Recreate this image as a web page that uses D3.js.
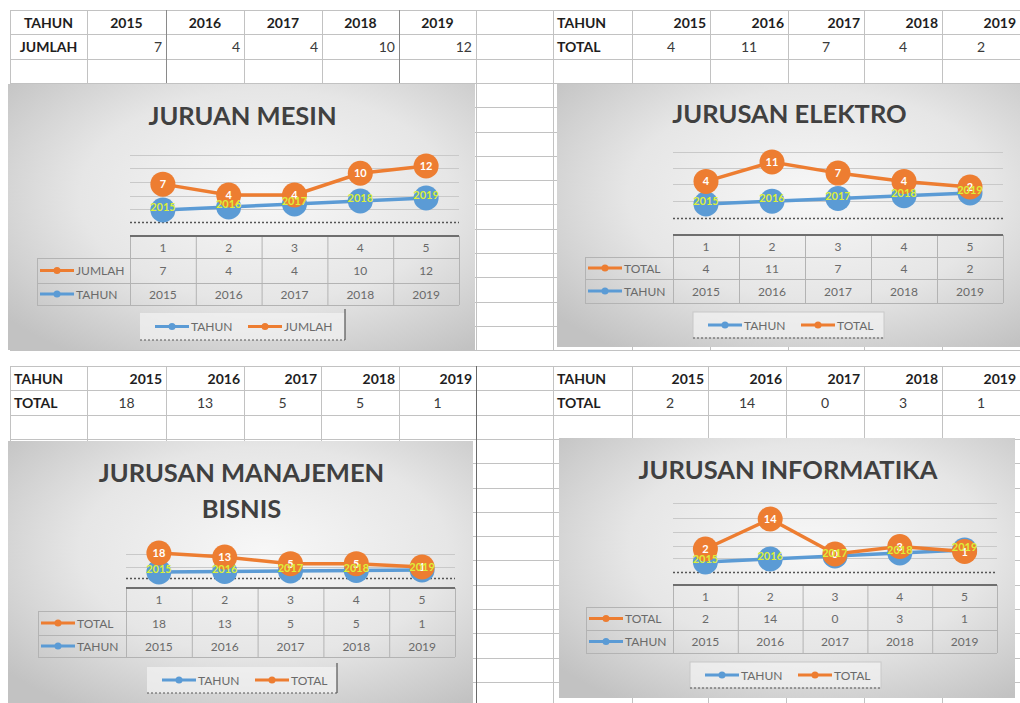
<!DOCTYPE html>
<html>
<head>
<meta charset="utf-8">
<script src="https://cdn.jsdelivr.net/npm/d3@7"></script>
<style>
  body { margin: 0; background: #fff; }
  svg { display: block; font-family: Lato, "Open Sans", sans-serif; }
</style>
</head>
<body>
<div id="chart"></div>
<script>
const years = [2015, 2016, 2017, 2018, 2019];
const pointNumbers = ["1", "2", "3", "4", "5"];
const mesinJumlah = [7, 4, 4, 10, 12];
const elektroTotal = [4, 11, 7, 4, 2];
const manajemenTotal = [18, 13, 5, 5, 1];
const informatikaTotal = [2, 14, 0, 3, 1];
const yearSeries = "TAHUN";

const BLUE = "#5b9bd5", ORANGE = "#ed7d31";

// layout of each block (sheet table + chart object)
const panels = [
  { title: ["JURUAN MESIN"], name: "JUMLAH", values: mesinJumlah,
    cols: [10, 87, 166, 244, 322, 399, 476], top: 10, headAlign: "middle", yearAlign: "middle", valAlign: "end",
    box: [8, 84, 475, 350], titleY: [125], plotX: [130, 459], grid: [155, 168, 182, 196, 209, 222],
    orangeY: [195, 166], blueY: [210, 198], tableY: [236, 258, 283, 305], keyX: 37,
    legend: [140, 313, 345, 340], legendEdge: true },
  { title: ["JURUSAN ELEKTRO"], name: "TOTAL", values: elektroTotal,
    cols: [553, 632, 710, 788, 864, 942, 1020], top: 10, headAlign: "start", yearAlign: "end", valAlign: "middle",
    box: [557, 84, 1020, 347], titleY: [123], plotX: [673, 1003], grid: [152, 168, 184, 201, 218],
    orangeY: [187, 162], blueY: [204, 193], tableY: [235, 257, 279, 303], keyX: 585,
    legend: [693, 312, 884, 338], legendEdge: false },
  { title: ["JURUSAN MANAJEMEN", "BISNIS"], name: "TOTAL", values: manajemenTotal,
    cols: [10, 87, 166, 244, 321, 399, 476], top: 366, headAlign: "start", yearAlign: "end", valAlign: "middle",
    box: [8, 441, 473, 703], titleY: [482, 518], plotX: [126, 455], grid: [554, 567, 578],
    orangeY: [567, 553], blueY: [572, 570], tableY: [588, 611, 635, 657], keyX: 38,
    legend: [147, 667, 337, 693], legendEdge: true },
  { title: ["JURUSAN INFORMATIKA"], name: "TOTAL", values: informatikaTotal,
    cols: [553, 632, 708, 786, 864, 942, 1020], top: 366, headAlign: "start", yearAlign: "end", valAlign: "middle",
    box: [559, 438, 1015, 698], titleY: [479], plotX: [673, 997], grid: [503, 518, 532, 546, 558, 572],
    orangeY: [554, 519], blueY: [562, 550], tableY: [585, 607, 630, 653], keyX: 586,
    legend: [690, 662, 881, 688], legendEdge: false }
];

const svg = d3.select("#chart").append("svg").attr("width", 1020).attr("height", 703);
svg.append("rect").attr("width", 1020).attr("height", 703).attr("fill", "#fff");

const grad = svg.append("defs").append("radialGradient").attr("id", "chartBg")
  .attr("cx", "55%").attr("cy", "42%").attr("r", "72%");
grad.append("stop").attr("offset", "0%").attr("stop-color", "#f7f7f7");
grad.append("stop").attr("offset", "55%").attr("stop-color", "#e6e6e6");
grad.append("stop").attr("offset", "100%").attr("stop-color", "#c2c2c2");

// spreadsheet grid
const sheet = svg.append("g").attr("stroke", "#c2c2c2").attr("stroke-width", 1);
[[10, 350], [366, 703]].forEach(([y0, y1]) => {
  d3.range(15).forEach(i => {
    const y = Math.round(y0 + i * 24.3) + 0.5;
    if (y <= y1 + 1) sheet.append("line").attr("x1", 10).attr("x2", 1020).attr("y1", y).attr("y2", y);
  });
});
panels.forEach(p => {
  const y1 = p.top === 10 ? 350 : 703;
  p.cols.concat(p.cols[0] === 10 ? [553] : []).forEach(x => {
    sheet.append("line").attr("x1", x + 0.5).attr("x2", x + 0.5).attr("y1", p.top).attr("y2", y1);
  });
});
// darker borders seen in the sheet
sheet.append("line").attr("x1", 476.5).attr("x2", 476.5).attr("y1", 366).attr("y2", 703).attr("stroke", "#6a6a6a");
[166, 399].forEach(x => sheet.append("line").attr("x1", x + 0.5).attr("x2", x + 0.5).attr("y1", 10).attr("y2", 83).attr("stroke", "#8a8a8a"));

function drawPanel(p) {
  // sheet table text
  const st = svg.append("g");
  const rowBase = [p.top + 18, p.top + 42];
  const cellX = (i, align) => align === "start" ? p.cols[i] + 4 : align === "end" ? p.cols[i + 1] - 4 : (p.cols[i] + p.cols[i + 1]) / 2;
  st.append("text").attr("x", cellX(0, p.headAlign)).attr("y", rowBase[0]).attr("text-anchor", p.headAlign)
    .attr("font-size", 14).attr("font-weight", 700).attr("fill", "#1e1e1e").text(yearSeries);
  st.append("text").attr("x", cellX(0, p.headAlign)).attr("y", rowBase[1]).attr("text-anchor", p.headAlign)
    .attr("font-size", 14).attr("font-weight", 700).attr("fill", "#1e1e1e").text(p.name);
  st.selectAll(".yr").data(years).join("text")
    .attr("x", (d, i) => cellX(i + 1, p.yearAlign)).attr("y", rowBase[0]).attr("text-anchor", p.yearAlign)
    .attr("font-size", 14).attr("font-weight", 700).attr("fill", "#1e1e1e").text(d => d);
  st.selectAll(".vl").data(p.values).join("text")
    .attr("x", (d, i) => cellX(i + 1, p.valAlign)).attr("y", rowBase[1]).attr("text-anchor", p.valAlign)
    .attr("font-size", 14).attr("fill", "#3a3a3a").text(d => d);

  // chart object
  const g = svg.append("g");
  const [bx0, by0, bx1, by1] = p.box;
  g.append("rect").attr("x", bx0).attr("y", by0).attr("width", bx1 - bx0).attr("height", by1 - by0).attr("fill", "url(#chartBg)");

  p.title.forEach((t, i) => {
    g.append("text").attr("x", (bx0 + bx1) / 2 + 1).attr("y", p.titleY[i]).attr("text-anchor", "middle")
      .attr("font-size", 25.5).attr("font-weight", 700).attr("fill", "#404040").text(t);
  });

  const x = d3.scaleBand().domain(pointNumbers).range(p.plotX);
  const xc = i => x(pointNumbers[i]) + x.bandwidth() / 2;
  const yO = d3.scaleLinear().domain(d3.extent(p.values)).range(p.orangeY);
  const yB = d3.scaleLinear().domain(d3.extent(years)).range(p.blueY);

  p.grid.forEach((gy, i) => {
    const last = i === p.grid.length - 1;
    g.append("line").attr("x1", p.plotX[0]).attr("x2", p.plotX[1]).attr("y1", gy + 0.5).attr("y2", gy + 0.5)
      .attr("stroke", last ? "#555" : "#c9c9c9").attr("stroke-width", last ? 1.5 : 1)
      .attr("stroke-dasharray", last ? "2,2" : null);
  });

  const line = (ys, arr) => d3.line().x((d, i) => xc(i)).y(d => ys(d))(arr);
  g.append("path").attr("d", line(yB, years)).attr("fill", "none").attr("stroke", BLUE).attr("stroke-width", 3.5);
  g.selectAll(".bm").data(years).join("circle")
    .attr("cx", (d, i) => xc(i)).attr("cy", d => yB(d)).attr("r", 12.5).attr("fill", BLUE);
  g.append("path").attr("d", line(yO, p.values)).attr("fill", "none").attr("stroke", ORANGE).attr("stroke-width", 3.5);
  g.selectAll(".om").data(p.values).join("circle")
    .attr("cx", (d, i) => xc(i)).attr("cy", d => yO(d)).attr("r", 12.5).attr("fill", ORANGE);
  g.selectAll(".ol").data(p.values).join("text")
    .attr("x", (d, i) => xc(i)).attr("y", d => yO(d) + 4).attr("text-anchor", "middle")
    .attr("font-size", 11).attr("font-weight", 700).attr("fill", "#fff").text(d => d);
  g.selectAll(".bl").data(years).join("text")
    .attr("x", (d, i) => xc(i)).attr("y", d => yB(d) + 1).attr("text-anchor", "middle")
    .attr("font-size", 11).attr("font-weight", 700).attr("fill", "#dcef3a").text(d => d);

  // data table under the plot
  const [t0, t1, t2, t3] = p.tableY;
  const tg = g.append("g").attr("stroke", "#b3b3b3").attr("stroke-width", 1);
  [t1, t2, t3].forEach(ty => tg.append("line").attr("x1", p.keyX).attr("x2", p.plotX[1]).attr("y1", ty + 0.5).attr("y2", ty + 0.5));
  x.domain().map(d => x(d)).concat([p.plotX[1]]).forEach(vx => {
    tg.append("line").attr("x1", vx + 0.5).attr("x2", vx + 0.5).attr("y1", t0).attr("y2", t3);
  });
  tg.append("line").attr("x1", p.keyX + 0.5).attr("x2", p.keyX + 0.5).attr("y1", t1).attr("y2", t3);
  g.append("line").attr("x1", p.plotX[0]).attr("x2", p.plotX[1]).attr("y1", t0).attr("y2", t0)
    .attr("stroke", "#6e6e6e").attr("stroke-width", 2);

  const rows = [pointNumbers, p.values, years];
  const rowY = [(t0 + t1) / 2, (t1 + t2) / 2, (t2 + t3) / 2];
  rows.forEach((r, ri) => {
    g.selectAll(".tr" + ri).data(r).join("text")
      .attr("x", (d, i) => xc(i)).attr("y", rowY[ri] + 4.5).attr("text-anchor", "middle")
      .attr("font-size", 12).attr("fill", "#6a6a6a").text(d => d);
  });

  const key = (kx, ky, color) => {
    g.append("line").attr("x1", kx).attr("x2", kx + 34).attr("y1", ky).attr("y2", ky).attr("stroke", color).attr("stroke-width", 3);
    g.append("circle").attr("cx", kx + 17).attr("cy", ky).attr("r", 3.5).attr("fill", color);
  };
  [[p.name, ORANGE, rowY[1]], [yearSeries, BLUE, rowY[2]]].forEach(([nm, c, ky]) => {
    key(p.keyX + 3, ky, c);
    g.append("text").attr("x", p.keyX + 39).attr("y", ky + 4.5).attr("font-size", 12).attr("fill", "#6a6a6a").text(nm);
  });

  // legend
  const [lx0, ly0, lx1, ly1] = p.legend;
  g.append("rect").attr("x", lx0).attr("y", ly0).attr("width", lx1 - lx0).attr("height", ly1 - ly0)
    .attr("fill", "#f3f3f3").attr("fill-opacity", 0.7).attr("stroke", p.legendEdge ? "none" : "#c8c8c8");
  g.append("line").attr("x1", lx0).attr("x2", lx1).attr("y1", ly1).attr("y2", ly1)
    .attr("stroke", "#555").attr("stroke-width", 1.2).attr("stroke-dasharray", "2,2");
  if (p.legendEdge) g.append("line").attr("x1", lx1).attr("x2", lx1).attr("y1", ly0 - 4).attr("y2", ly1)
    .attr("stroke", "#555").attr("stroke-width", 1.2);
  const ly = (ly0 + ly1) / 2;
  [[yearSeries, BLUE, 15], [p.name, ORANGE, 108]].forEach(([nm, c, off]) => {
    key(lx0 + off, ly, c);
    g.append("text").attr("x", lx0 + off + 36).attr("y", ly + 4.5).attr("font-size", 12).attr("fill", "#6a6a6a").text(nm);
  });
}

panels.forEach(drawPanel);
</script>
</body>
</html>
